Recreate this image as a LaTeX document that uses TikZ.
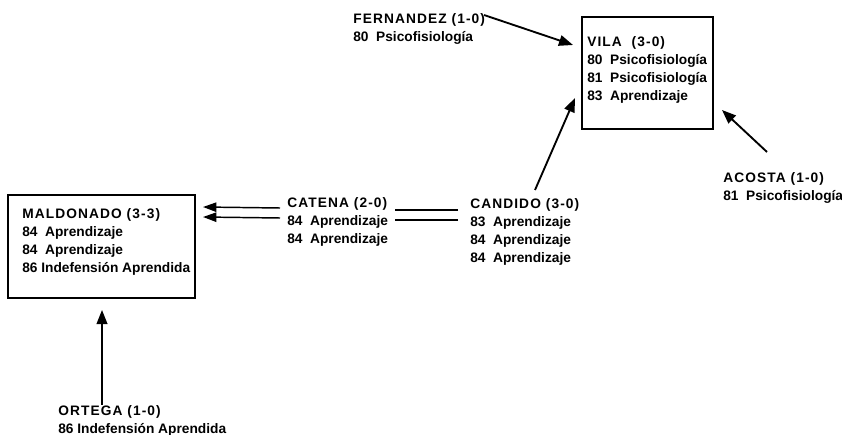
\documentclass[tikz,border=0pt]{standalone}
\usepackage{fontspec}
\setmainfont{Liberation Sans}
\newfontfamily\nombre{Liberation Sans}[LetterSpace=8]
\usepackage{tikz}
\usetikzlibrary{arrows.meta, positioning, calc}

\begin{document}
\begin{tikzpicture}[x=0.75pt, y=-0.75pt, >=Stealth,
  autor/.style={anchor=north west, inner sep=0pt, align=left,
        font=\bfseries\fontsize{10.3}{13.6}\selectfont},
  caja/.style={draw, line width=1pt, inner sep=0pt},
  flecha/.style={line width=1.4pt, -{Triangle[length=10.5pt, width=8pt]}},
  doble/.style={line width=1.1pt, -{Triangle[length=10pt, width=7pt]}},
  enlace/.style={line width=1.1pt}]

  \useasboundingbox (0,0) rectangle (842,435);

  % Vila
  \node[caja, minimum width=98.25pt, minimum height=84pt] (vilabox) at (647.5,73) {};
  \node[autor] (vila) at (587,36)
        {{\nombre VILA~~(3-0)}\\80~ Psicofisiología\\81~ Psicofisiología\\83~ Aprendizaje};

  % Fernandez
  \node[autor] (fernandez) at (353,13)
        {{\nombre FERNANDEZ (1-0)}\\80~ Psicofisiología};
  \coordinate (fernandezout) at (484,15);
  \coordinate (vilain1) at (573,45);
  \draw[flecha] (fernandezout) -- (vilain1);

  % Acosta
  \node[autor] (acosta) at (723,172)
        {{\nombre ACOSTA (1-0)}\\81~ Psicofisiología};
  \coordinate (acostaout) at (767,152);
  \coordinate (vilain2) at (722,110);
  \draw[flecha] (acostaout) -- (vilain2);

  % Candido
  \node[autor] (candido) at (470,198)
        {{\nombre CANDIDO (3-0)}\\83~ Aprendizaje\\84~ Aprendizaje\\84~ Aprendizaje};
  \coordinate (candidoout) at (535,190);
  \coordinate (vilain3) at (575,98);
  \draw[flecha] (candidoout) -- (vilain3);

  % Catena
  \node[autor] (catena) at (287,197)
        {{\nombre CATENA (2-0)}\\84~ Aprendizaje\\84~ Aprendizaje};
  \coordinate (candidoa) at (458,210);
  \coordinate (candidob) at (458,220);
  \draw[enlace] (candidoa) -- (395,210);
  \draw[enlace] (candidob) -- (395,220);

  % Maldonado
  \node[caja, minimum width=140.25pt, minimum height=77.25pt] (maldobox) at (101.5,246.5) {};
  \node[autor] (maldonado) at (22,208)
        {{\nombre MALDONADO (3-3)}\\84~ Aprendizaje\\84~ Aprendizaje\\86 Indefensión Aprendida};
  \coordinate (maldoin1) at (203,207);
  \coordinate (maldoin2) at (203,217);
  \draw[doble] (280,208) -- (maldoin1);
  \draw[doble] (280,218) -- (maldoin2);

  % Ortega
  \node[autor] (ortega) at (58,405)
        {{\nombre ORTEGA (1-0)}\\86 Indefensión Aprendida};
  \coordinate (ortegaout) at (102,405);
  \coordinate (maldoin3) at (102,310);
  \draw[flecha] (ortegaout) -- (maldoin3);

\end{tikzpicture}
\end{document}
